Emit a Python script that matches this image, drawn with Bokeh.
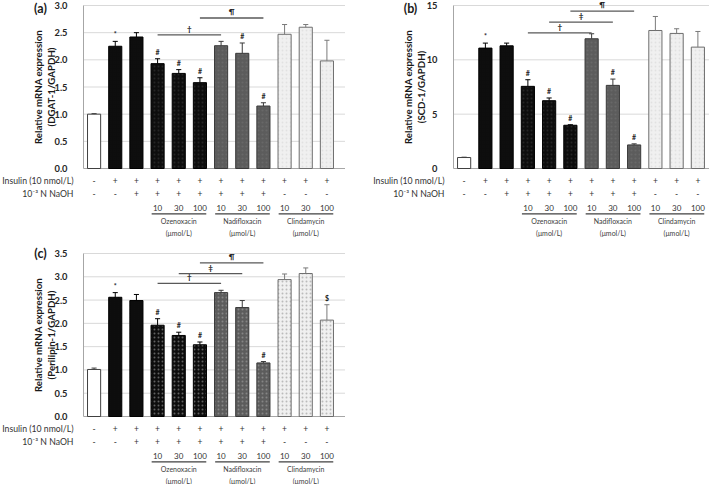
import math
from bokeh.plotting import figure
from bokeh.models import ColumnDataSource, FixedTicker, NumeralTickFormatter
from bokeh.layouts import column, row
from bokeh.embed import file_html
from bokeh.resources import INLINE
from bokeh.core.properties import value

FONT = "Lato"

# ---- data -------------------------------------------------------------
positions = list(range(12))
insulin_row = ["-", "+", "+", "+", "+", "+", "+", "+", "+", "+", "+", "+"]
naoh_row = ["-", "-", "+", "+", "+", "+", "+", "+", "+", "-", "-", "-"]
dose_labels = ["10", "30", "100"]
drug_names = ["Ozenoxacin", "Nadifloxacin", "Clindamycin"]
drug_bars = [[3, 4, 5], [6, 7, 8], [9, 10, 11]]

dgat1 = [1.00, 2.25, 2.42, 1.93, 1.75, 1.58, 2.26, 2.12, 1.15, 2.47, 2.60, 1.98]
dgat1_err = [0.01, 0.09, 0.08, 0.09, 0.07, 0.09, 0.08, 0.19, 0.06, 0.18, 0.05, 0.38]
dgat1_marks = {1: "*", 3: "#", 4: "#", 5: "#", 7: "#", 8: "#"}
dgat1_brackets = [("†", 3, 6, 2.46), ("¶", 5, 8, 2.77)]
dgat1_ticks = [0.0, 0.5, 1.0, 1.5, 2.0, 2.5, 3.0]

scd1 = [1.01, 11.08, 11.29, 7.56, 6.24, 3.98, 11.94, 7.65, 2.17, 12.70, 12.43, 11.17]
scd1_err = [0.03, 0.46, 0.25, 0.61, 0.25, 0.05, 0.46, 0.58, 0.10, 1.29, 0.43, 1.44]
scd1_marks = {1: "*", 3: "#", 4: "#", 5: "#", 7: "#", 8: "#"}
scd1_brackets = [("†", 3, 6, 12.49), ("‡", 4, 7, 13.47), ("¶", 5, 8, 14.48)]
scd1_ticks = [0, 5, 10, 15]

plin1 = [1.01, 2.56, 2.49, 1.96, 1.74, 1.54, 2.66, 2.34, 1.15, 2.94, 3.07, 2.07]
plin1_err = [0.03, 0.10, 0.13, 0.14, 0.07, 0.06, 0.05, 0.15, 0.03, 0.12, 0.12, 0.33]
plin1_marks = {1: "*", 3: "#", 4: "#", 5: "#", 8: "#", 11: "$"}
plin1_brackets = [("†", 3, 6, 2.86), ("‡", 4, 7, 3.07), ("¶", 5, 8, 3.30)]
plin1_ticks = [0.0, 0.5, 1.0, 1.5, 2.0, 2.5, 3.0, 3.5]

# ---- styles -----------------------------------------------------------
fills = ["#ffffff"] + ["#0d0d0d"] * 5 + ["#5c5c5c"] * 3 + ["#f0f0f0"] * 3
lines = ["#404040"] + ["#000000"] * 5 + ["#3a3a3a"] * 3 + ["#6e6e6e"] * 3
errc = ["#404040"] + ["#000000"] * 5 + ["#3a3a3a"] * 3 + ["#7a7a7a"] * 3
hatch_c = ["#ffffff"] + ["#0d0d0d"] * 2 + ["#6a6a6a"] * 3 + ["#8a8a8a"] * 3 + ["#b5b5b5"] * 3

AXIS_PX = 163.0
ROW_OFF = dict(ins=12.2, naoh=25.2, dose=39.6, uline=45.3, name=52.6, unit=64.5)
TXT = "#333333"


def make_panel(vals, errs, marks, brackets, ticks, fmt, ylabel, letter,
               width, height, left_px, right_px, top_px, bottom_px, rowlab_gap, hatch_alpha):
    top = ticks[-1]
    ppu = AXIS_PX / top                      # pixels per y unit
    ux = (width - left_px - right_px) / 12.0  # pixels per bar slot
    xs = lambda px: -0.5 - px / ux           # x position px to the left of the axis
    ys = lambda px: -px / ppu                # y position px below zero
    xr = 11.5 + right_px / ux

    p = figure(width=width, height=height, output_backend="svg", toolbar_location=None,
               x_range=(xs(left_px), xr),
               y_range=(ys(bottom_px), top + top_px / ppu),
               x_axis_location=None,
               min_border_left=0, min_border_right=0, min_border_top=0, min_border_bottom=0)
    p.outline_line_color = None
    p.xgrid.visible = False
    p.ygrid.visible = False

    ax = p.yaxis[0]
    ax.fixed_location = -0.5
    ax.ticker = FixedTicker(ticks=ticks)
    ax.bounds = (0, top)
    ax.formatter = NumeralTickFormatter(format=fmt)
    ax.major_tick_line_color = None
    ax.minor_tick_line_color = None
    ax.axis_line_color = "#a6a6a6"
    ax.major_label_text_font = FONT
    ax.major_label_text_font_size = "9.3px"
    ax.major_label_text_font_style = "bold"
    ax.major_label_text_color = "#262626"
    ax.major_label_standoff = 10

    # horizontal gridlines at the tick values, and the zero baseline
    gt = [t for t in ticks if t > 0]
    p.segment(x0=[-0.5] * len(gt), y0=gt, x1=[xr] * len(gt), y1=gt,
              line_color="#d9d9d9", line_width=1)
    p.segment(x0=[-0.5], y0=[0], x1=[xr], y1=[0], line_color="#a6a6a6", line_width=1)

    # y-axis title (two lines, rotated)
    mid = top / 2.0
    p.text(x=[xs(46), xs(33)], y=[mid, mid], text=ylabel, angle=math.pi / 2,
           text_font=value(FONT), text_font_size="9.7px", text_font_style="bold",
           text_align="center", text_baseline="middle", text_color="#1a1a1a")

    src = ColumnDataSource(dict(x=positions, top=vals, fill=fills, line=lines,
                                hc=hatch_c, errtop=[v + e for v, e in zip(vals, errs)],
                                ec=errc))
    p.vbar(x="x", top="top", bottom=0, width=0.62, source=src, fill_color="fill",
           line_color="line", line_width=1, hatch_pattern="dot", hatch_color="hc",
           hatch_alpha=hatch_alpha, hatch_scale=4, hatch_weight=1)
    p.segment(x0="x", y0="top", x1="x", y1="errtop", source=src, line_color="ec", line_width=1)
    cap = 0.12
    p.segment(x0=[x - cap for x in positions], y0=src.data["errtop"],
              x1=[x + cap for x in positions], y1=src.data["errtop"],
              line_color=errc, line_width=1)

    # significance marks above bars
    mk_x = list(marks.keys())
    mk_y = [vals[i] + errs[i] + 7.0 / ppu for i in mk_x]
    p.text(x=mk_x, y=mk_y, text=[marks[i] for i in mk_x], text_font=value(FONT),
           text_font_size="7px", text_font_style="bold", text_align="center",
           text_baseline="middle", text_color="#222222")

    # comparison brackets
    for sym, i0, i1, yb in brackets:
        p.segment(x0=[i0], y0=[yb], x1=[i1], y1=[yb], line_color="#595959", line_width=1.3)
        p.text(x=[(i0 + i1) / 2], y=[yb + 6.0 / ppu], text=[sym], text_font=value(FONT),
               text_font_size="8px", text_font_style="bold", text_align="center",
               text_baseline="middle", text_color="#222222")

    # condition rows under the bars
    y_ins, y_naoh = ys(ROW_OFF["ins"]), ys(ROW_OFF["naoh"])
    p.text(x=positions, y=[y_ins] * 12, text=insulin_row, text_font=value(FONT),
           text_font_size="8.5px", text_align="center", text_baseline="middle", text_color=TXT)
    p.text(x=positions, y=[y_naoh] * 12, text=naoh_row, text_font=value(FONT),
           text_font_size="8.5px", text_align="center", text_baseline="middle", text_color=TXT)
    p.text(x=[xs(rowlab_gap)] * 2, y=[y_ins, y_naoh],
           text=["Insulin (10 nmol/L)", "10⁻³ N NaOH"],
           text_font=value(FONT), text_font_size="8.7px", text_align="right",
           text_baseline="middle", text_color=TXT)
    dx, dy, dt = [], [], []
    for grp in drug_bars:
        for j, b in enumerate(grp):
            dx.append(b)
            dy.append(ys(ROW_OFF["dose"]))
            dt.append(dose_labels[j])
    p.text(x=dx, y=dy, text=dt, text_font=value(FONT), text_font_size="8px",
           text_align="center", text_baseline="middle", text_color=TXT)
    p.segment(x0=[g[0] - 0.28 for g in drug_bars], y0=[ys(ROW_OFF["uline"])] * 3,
              x1=[g[-1] + 0.3 for g in drug_bars], y1=[ys(ROW_OFF["uline"])] * 3,
              line_color="#404040", line_width=1.2)
    p.text(x=[g[1] for g in drug_bars], y=[ys(ROW_OFF["name"])] * 3, text=drug_names,
           text_font=value(FONT), text_font_size="7px", text_align="center",
           text_baseline="middle", text_color="#404040")
    p.text(x=[g[1] for g in drug_bars], y=[ys(ROW_OFF["unit"])] * 3,
           text=["(μmol/L)"] * 3, text_font=value(FONT), text_font_size="7px",
           text_align="center", text_baseline="middle", text_color="#404040")

    # panel letter (kept fully inside the canvas)
    letter_y = top - max(0.0, 7.5 - top_px) / ppu
    p.text(x=[xs(43)], y=[letter_y], text=[letter], text_font=value(FONT),
           text_font_size="12.5px", text_font_style="bold", text_align="center",
           text_baseline="middle", text_color="#1a1a1a")
    return p


pa = make_panel(dgat1, dgat1_err, dgat1_marks, dgat1_brackets, dgat1_ticks, "0.0",
                ["Relative mRNA expression", "(DGAT-1/GAPDH)"], "(a)",
                345, 243, 83, 8, 5, 75, 10, 0.25)
pb = make_panel(scd1, scd1_err, scd1_marks, scd1_brackets, scd1_ticks, "0",
                ["Relative mRNA expression", "(SCD-1/GAPDH)"], "(b)",
                364, 243, 108, 1, 5, 75, 9, 0.25)
pc = make_panel(plin1, plin1_err, plin1_marks, plin1_brackets, plin1_ticks, "0.0",
                ["Relative mRNA expression", "(Perilipin-1/GAPDH)"], "(c)",
                345, 241, 83, 8, 10, 68, 10, 0.9)

layout = column(row(pa, pb), pc)
open("out.html", "w").write(file_html(layout, INLINE))
